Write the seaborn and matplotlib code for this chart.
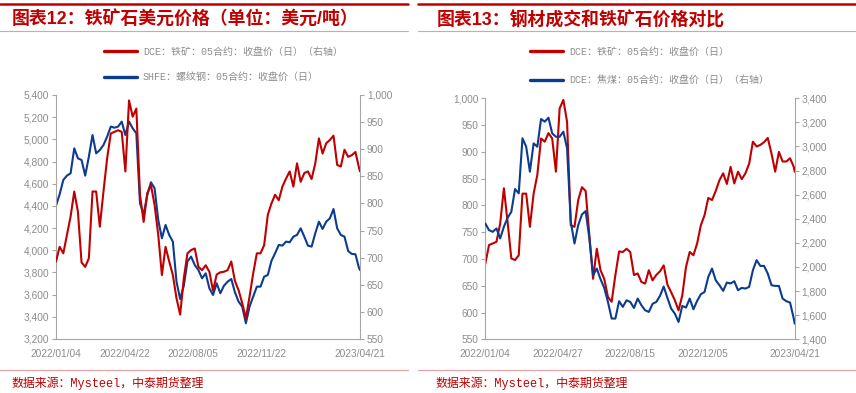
import numpy as np
import pandas as pd
import matplotlib
matplotlib.use("Agg")
import matplotlib.pyplot as plt
import seaborn as sns
from matplotlib.lines import Line2D
from matplotlib.ticker import FuncFormatter

# ---------------- data (sampled every 4 trading days, last point = 2023/04/21) ----------------
n_days = 334  # trading days from 2022/01/04 to 2023/04/21

shfe_rebar = [4402, 4505, 4634, 4673, 4694, 4919, 4829, 4814, 4673, 4844, 5039, 4874, 4904, 4949,
              5024, 5115, 5105, 5115, 5160, 5039, 5160, 5100, 5054, 4423, 4324, 4498, 4613, 4559,
              4273, 4108, 4228, 4138, 4078, 3717, 3560, 3680, 3900, 3943, 3867, 3822, 3747, 3792,
              3657, 3597, 3702, 3612, 3681, 3717, 3741, 3621, 3537, 3492, 3342, 3492, 3582, 3672,
              3672, 3762, 3777, 3904, 3973, 4048, 4042, 4078, 4072, 4123, 4138, 4198, 4123, 4042,
              4033, 4153, 4258, 4192, 4258, 4288, 4372, 4198, 4138, 4123, 3994, 3967, 3964, 3837,
              3822]

dce_ore_usd = [693, 720, 708, 742, 776, 822, 785, 691, 683, 699, 822, 822, 757, 822, 883, 929, 932,
               935, 932, 859, 990, 960, 975, 816, 766, 819, 834, 797, 742, 668, 720, 693, 668, 625,
               595, 662, 708, 714, 717, 683, 677, 686, 674, 639, 669, 673, 674, 677, 693, 657, 640,
               616, 588, 628, 671, 708, 708, 723, 779, 800, 816, 806, 831, 846, 859, 831, 874, 840,
               856, 859, 845, 874, 920, 892, 911, 917, 925, 871, 868, 899, 886, 889, 895, 865, 859]

dce_ore = [691, 726, 729, 732, 766, 832, 769, 701, 698, 707, 822, 822, 760, 822, 857, 925, 919, 935,
           925, 863, 981, 997, 956, 763, 760, 810, 834, 827, 744, 663, 719, 679, 663, 629, 620, 670,
           714, 713, 719, 713, 670, 673, 657, 654, 679, 660, 670, 677, 688, 652, 638, 623, 604, 632,
           685, 713, 707, 729, 763, 782, 814, 810, 827, 847, 860, 840, 872, 841, 863, 849, 860, 878,
           919, 910, 913, 918, 926, 897, 863, 900, 882, 882, 888, 872, 863]

dce_coke_coal = [2361, 2306, 2292, 2320, 2237, 2334, 2408, 2458, 2647, 2611, 3068, 2998, 2791, 3026,
                 2998, 3228, 3206, 3239, 3109, 3081, 3081, 3123, 2985, 2375, 2195, 2347, 2436, 2464,
                 2237, 1932, 1987, 1899, 1827, 1710, 1572, 1572, 1716, 1669, 1724, 1710, 1660, 1738,
                 1683, 1641, 1627, 1694, 1710, 1760, 1838, 1744, 1655, 1613, 1544, 1677, 1663, 1738,
                 1649, 1719, 1774, 1793, 1918, 1987, 1890, 1849, 1802, 1871, 1863, 1882, 1807, 1827,
                 1821, 1835, 1973, 2057, 2009, 2009, 1946, 1849, 1843, 1843, 1738, 1716, 1705, 1572,
                 1530]

left_xticklabels = ["2022/01/04", "2022/04/22", "2022/08/05", "2022/11/22", "", "2023/04/21"]
right_xticklabels = ["2022/01/04", "2022/04/27", "2022/08/15", "2022/12/05", "", "2023/04/21"]

left_title = "图表12：铁矿石美元价格（单位：美元/吨）"
right_title = "图表13：钢材成交和铁矿石价格对比"
left_labels = ["DCE：铁矿：05合约：收盘价（日）（右轴）", "SHFE：螺纹钢：05合约：收盘价（日）"]
right_labels = ["DCE：铁矿：05合约：收盘价（日）", "DCE：焦煤：05合约：收盘价（日）（右轴）"]
source_text = "数据来源：Mysteel，中泰期货整理"

# ---------------- style ----------------
sns.set_style("white")
plt.rcParams["font.family"] = ["Liberation Sans", "Noto Sans CJK SC", "DejaVu Sans"]
plt.rcParams["axes.unicode_minus"] = False

RED = "#C00000"
BLUE = "#0B3C8F"
PINK = "#E4A0A0"
GRAY_TXT = "#8C8C8C"
GRAY_SP = "#A6A6A6"

day = np.r_[np.arange(0, n_days - 1, 4), n_days - 1]
df = pd.DataFrame({"day": day, "rebar": shfe_rebar, "ore_usd": dce_ore_usd,
                   "ore": dce_ore, "coal": dce_coke_coal})

W, H = 856, 393
fig = plt.figure(figsize=(W / 100, H / 100), dpi=100)


def fx(x):
    return x / W


def fy(y):
    return 1 - y / H


def style(ax, side):
    for s in ["top", "left", "right", "bottom"]:
        ax.spines[s].set_visible(False)
    if side == "left":
        ax.spines["left"].set_visible(True)
        ax.spines["bottom"].set_visible(True)
        ax.spines["left"].set_color(GRAY_SP)
        ax.spines["bottom"].set_color(GRAY_SP)
    else:
        ax.spines["right"].set_visible(True)
        ax.spines["right"].set_color(GRAY_SP)
    ax.tick_params(axis="y", which="both", direction="out", length=3, width=0.8,
                   color=GRAY_SP, labelsize=7.3, labelcolor=GRAY_TXT, pad=2)
    ax.tick_params(axis="x", which="both", direction="out", length=4, width=0.8,
                   color=GRAY_SP, labelsize=7.3, labelcolor=GRAY_TXT, pad=3)
    ax.yaxis.set_major_formatter(FuncFormatter(lambda v, p: f"{v:,.0f}"))
    ax.set_xlabel("")
    ax.set_ylabel("")
    ax.grid(False)


def panel(rect, left_col, left_color, left_lim, left_step, right_col, right_color, right_lim,
          right_step, tick_step, xlabels):
    ax = fig.add_axes(rect)
    ax2 = ax.twinx()
    sns.lineplot(data=df, x="day", y=left_col, ax=ax, color=left_color, linewidth=1.5)
    sns.lineplot(data=df, x="day", y=right_col, ax=ax2, color=right_color, linewidth=1.5)
    ax.set_xlim(0, n_days - 1)
    ax.set_ylim(*left_lim)
    ax.set_yticks(np.arange(left_lim[0], left_lim[1] + 1, left_step))
    ax2.set_ylim(*right_lim)
    ax2.set_yticks(np.arange(right_lim[0], right_lim[1] + 1, right_step))
    ticks = list(np.arange(0, n_days - 1, tick_step)) + [n_days - 1]
    ax.set_xticks(ticks)
    ax.set_xticklabels(xlabels)
    style(ax, "left")
    style(ax2, "right")
    return ax, ax2


# left panel
axL, axL2 = panel([fx(56), fy(339), fx(360) - fx(56), fy(95) - fy(339)],
                  "rebar", BLUE, (3200, 5400), 200, "ore_usd", RED, (550, 1000), 50,
                  75, left_xticklabels)
# right panel
axR, axR2 = panel([fx(485.3), fy(339.3), fx(794.7) - fx(485.3), fy(98.3) - fy(339.3)],
                  "ore", RED, (550, 1000), 50, "coal", BLUE, (1400, 3400), 200,
                  78, right_xticklabels)

# legends
leg_prop = {"family": ["Liberation Mono", "Noto Sans CJK SC"], "size": 7.2}
fig.legend(handles=[Line2D([], [], color=RED, lw=2.4), Line2D([], [], color=BLUE, lw=2.4)],
           labels=left_labels, loc="upper left", bbox_to_anchor=(fx(104), fy(46.5)),
           frameon=False, labelcolor=GRAY_TXT, handlelength=3.3,
           handletextpad=0.6, labelspacing=1.55, borderpad=0, borderaxespad=0,
           prop=leg_prop)
fig.legend(handles=[Line2D([], [], color=RED, lw=2.4), Line2D([], [], color=BLUE, lw=2.4)],
           labels=right_labels, loc="upper left", bbox_to_anchor=(fx(530), fy(46.5)),
           frameon=False, labelcolor=GRAY_TXT, handlelength=3.3,
           handletextpad=0.6, labelspacing=1.85, borderpad=0, borderaxespad=0,
           prop=leg_prop)

# decorations: header lines, titles, source lines
for x0, x1 in [(0, 408), (418, 856)]:
    fig.add_artist(Line2D([fx(x0), fx(x1)], [fy(3.6), fy(3.6)], color=RED, lw=1.8,
                          transform=fig.transFigure))
    fig.add_artist(Line2D([fx(x0), fx(x1)], [fy(31), fy(31)], color=PINK, lw=0.8,
                          transform=fig.transFigure))
    fig.add_artist(Line2D([fx(x0), fx(x1)], [fy(370), fy(370)], color=PINK, lw=0.8,
                          transform=fig.transFigure))

fig.text(fx(12), fy(20), left_title, color=RED, fontsize=12.9, fontweight="bold",
         ha="left", va="center")
fig.text(fx(437), fy(20), right_title, color=RED, fontsize=12.9, fontweight="bold",
         ha="left", va="center")
fig.text(fx(12), fy(383), source_text, color=RED, fontsize=8.6, ha="left", va="center",
         family=["Liberation Mono", "Noto Sans CJK SC"])
fig.text(fx(436), fy(383), source_text, color=RED, fontsize=8.6, ha="left", va="center",
         family=["Liberation Mono", "Noto Sans CJK SC"])

fig.savefig("out.png", dpi=100)
